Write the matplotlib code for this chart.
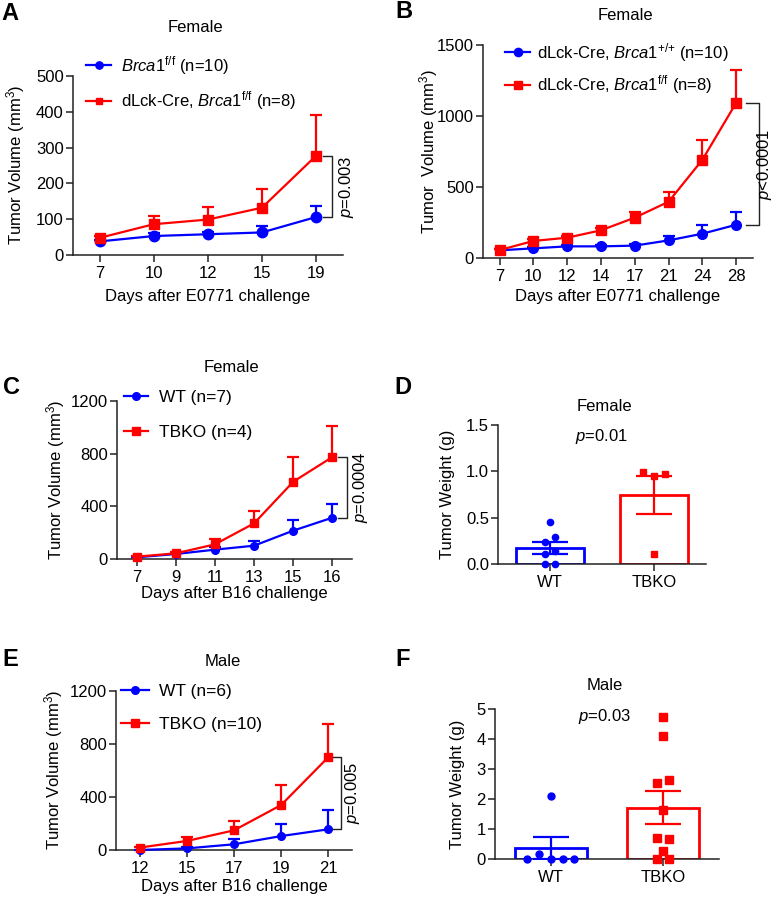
import numpy as np
import matplotlib
matplotlib.use("Agg")
import matplotlib.pyplot as plt

plt.rcParams['font.family'] = ['Liberation Sans', 'DejaVu Sans']
plt.rcParams['mathtext.fontset'] = 'custom'
plt.rcParams['mathtext.rm'] = 'Liberation Sans'
plt.rcParams['mathtext.it'] = 'Liberation Sans:italic'
plt.rcParams['mathtext.bf'] = 'Liberation Sans:bold'
plt.rcParams['font.size'] = 12

W, H = 773, 898
BLUE = '#0000ff'
RED = '#ff0000'
AXC = '#222222'

# -------------------------------
# Data
# -------------------------------
# A: E0771, female
a_days = ['7', '10', '12', '15', '19']
a_ctrl = [38, 53, 58, 63, 106]
a_ctrl_err = [4, 8, 6, 17, 30]
a_ko = [48, 86, 99, 132, 277]
a_ko_err = [4, 22, 34, 51, 113]

# B: E0771, female, longer course
b_days = ['7', '10', '12', '14', '17', '21', '24', '28']
b_ctrl = [54, 68, 82, 82, 87, 124, 171, 234]
b_ctrl_err = [8, 8, 8, 8, 10, 33, 61, 92]
b_ko = [56, 120, 143, 195, 284, 396, 691, 1092]
b_ko_err = [8, 15, 15, 15, 42, 66, 139, 230]

# C: B16, female
c_days = ['7', '9', '11', '13', '15', '16']
c_wt = [15, 40, 73, 103, 217, 315]
c_wt_err = [5, 10, 20, 38, 78, 103]
c_ko = [20, 45, 113, 272, 587, 774]
c_ko_err = [5, 10, 38, 94, 187, 234]

# D: tumor weight, female
d_groups = ['WT', 'TBKO']
d_mean = [0.17, 0.745]
d_sem = [0.065, 0.205]
d_wt_pts = [0.45, 0.29, 0.24, 0.14, 0.11, 0.0, 0.0]
d_ko_pts = [0.99, 0.95, 0.97, 0.11]

# E: B16, male
e_days = ['12', '15', '17', '19', '21']
e_wt = [0, 12, 43, 105, 156]
e_wt_err = [3, 10, 37, 91, 143]
e_ko = [18, 68, 148, 339, 700]
e_ko_err = [5, 32, 73, 151, 251]

# F: tumor weight, male
f_groups = ['WT', 'TBKO']
f_mean = [0.35, 1.70]
f_sem = [0.37, 0.55]
f_wt_pts = [2.09, 0.16, 0.0, 0.0, 0.0, 0.0]
f_ko_pts = [4.71, 4.09, 2.51, 2.62, 1.62, 0.70, 0.67, 0.27, 0.0, 0.0]

# horizontal spread of the dots (layout only)
d_wt_jit = [0.0, 0.05, -0.05, 0.05, -0.05, -0.05, 0.05]
d_ko_jit = [-0.11, 0.0, 0.11, 0.0]
f_wt_jit = [0.0, -0.107, -0.213, 0.0, 0.104, 0.207]
f_ko_jit = [0.0, 0.0, -0.055, 0.055, 0.0, -0.055, 0.055, 0.0, -0.055, 0.055]


def fx(px):
    return px / W


def fy(py):
    return 1 - py / H


def make_ax(fig, x0, y0, x1, y1):
    ax = fig.add_axes([fx(x0), fy(y1), (x1 - x0) / W, (y1 - y0) / H])
    for s in ['top', 'right']:
        ax.spines[s].set_visible(False)
    for s in ['left', 'bottom']:
        ax.spines[s].set_color(AXC)
        ax.spines[s].set_linewidth(1.1)
    ax.tick_params(direction='out', length=5, width=1.1, color=AXC,
                   labelsize=12, pad=2)
    ax.tick_params(axis='y', pad=1.5)
    ax.tick_params(axis='x', pad=3)
    return ax


def growth(ax, days, c_mean, c_err, k_mean, k_err, ms_c, ms_k, ylim, yticks):
    x = np.arange(len(days))
    handles = []
    for m, e, col, mk, ms in [(c_mean, c_err, BLUE, 'o', ms_c),
                              (k_mean, k_err, RED, 's', ms_k)]:
        eb = ax.errorbar(x, m, yerr=[np.zeros(len(m)), e], color=col, lw=1.6,
                         marker=mk, ms=ms, elinewidth=1.6, capsize=4.5,
                         capthick=1.6, clip_on=False, zorder=3)
        eb[1][0].set_visible(False)
        for art in eb[1] + eb[2]:
            art.set_clip_on(False)
        handles.append(eb[0])
    ax.set_xticks(x)
    ax.set_xticklabels(days)
    ax.set_xlim(-0.5, len(days) - 0.5)
    ax.set_ylim(*ylim)
    ax.set_yticks(yticks)
    return handles


def bracket(ax, xv, xt, y_top, y_bot, xtext, label):
    ax.plot([xt, xv, xv, xt], [y_top, y_top, y_bot, y_bot], color=AXC,
            lw=1.0, clip_on=False)
    ax.text(xtext, (y_top + y_bot) / 2, label, rotation=90, ha='center',
            va='center', fontsize=12, clip_on=False)


def weight(ax, groups, mean, sem, wt_pts, ko_pts, wt_jit, ko_jit,
           ms_c, ms_k, ylim, yticks):
    x = np.arange(len(groups))
    ax.bar(x, mean, width=0.65, facecolor='white', edgecolor=[BLUE, RED],
           linewidth=2.0, zorder=2)
    for i, col in enumerate([BLUE, RED]):
        ax.errorbar(x[i], mean[i], yerr=sem[i], color=col, elinewidth=1.6,
                    capsize=13, capthick=1.6, fmt='none', zorder=3)
    ax.plot(x[0] + np.array(wt_jit), wt_pts, 'o', color=BLUE, ms=ms_c,
            clip_on=False, zorder=4)
    ax.plot(x[1] + np.array(ko_jit), ko_pts, 's', color=RED, ms=ms_k,
            clip_on=False, zorder=4)
    ax.set_xticks(x)
    ax.set_xticklabels(groups)
    ax.tick_params(axis='x', length=5)
    ax.set_xlim(-0.5, 1.5)
    ax.set_ylim(*ylim)
    ax.set_yticks(yticks)


def place_labels(ax, fig, xl_cx, xl_top, yl_right, yl_cy):
    if xl_cx is not None:
        ax.xaxis.set_label_coords(fx(xl_cx), fy(xl_top), transform=fig.transFigure)
    ax.yaxis.set_label_coords(fx(yl_right), fy(yl_cy), transform=fig.transFigure)


fig = plt.figure(figsize=(W / 100, H / 100), dpi=100)

ylab = 'Tumor Volume (mm$^{3}$)'
brca_ff = r'$\mathit{Brca1}^{\mathrm{f/f}}$'
brca_pp = r'$\mathit{Brca1}^{{+}/{+}}$'
leg_kw = dict(frameon=False, borderpad=0, borderaxespad=0, fontsize=12,
              handlelength=1.5, handletextpad=0.6, labelspacing=0.75,
              bbox_transform=fig.transFigure, loc='upper left')

# ---- A ----
axA = make_ax(fig, 72.7, 76, 343, 255)
hA = growth(axA, a_days, a_ctrl, a_ctrl_err, a_ko, a_ko_err, 7.5, 7,
            (0, 500), [0, 100, 200, 300, 400, 500])
axA.set_xlabel('Days after E0771 challenge', fontsize=12)
axA.set_ylabel(ylab, fontsize=12)
place_labels(axA, fig, 208, 289, 27, 165)
axA.legend(hA, [brca_ff + ' (n=10)', 'dLck-Cre, ' + brca_ff + ' (n=8)'],
           bbox_to_anchor=(fx(86), fy(54)), markerscale=0.7, **leg_kw)
bracket(axA, 4.3, 4.13, a_ko[-1], a_ctrl[-1], 4.57, r'$\mathit{p}$=0.003')

# ---- B ----
axB = make_ax(fig, 482.7, 45, 753, 258)
hB = growth(axB, b_days, b_ctrl, b_ctrl_err, b_ko, b_ko_err, 7, 7,
            (0, 1500), [0, 500, 1000, 1500])
axB.set_xlabel('Days after E0771 challenge', fontsize=12)
axB.set_ylabel('Tumor  Volume (mm$^{3}$)', fontsize=12)
place_labels(axB, fig, 618, 289, 440, 151)
axB.legend(hB, ['dLck-Cre, ' + brca_pp + ' (n=10)', 'dLck-Cre, ' + brca_ff + ' (n=8)'],
           bbox_to_anchor=(fx(505), fy(41)), markerscale=0.85,
           **dict(leg_kw, handletextpad=0.4, labelspacing=0.55))
bracket(axB, 7.68, 7.3, b_ko[-1], b_ctrl[-1], 7.85, r'$\mathit{p}$<0.0001')

# ---- C ----
axC = make_ax(fig, 117, 400.7, 352, 559.3)
hC = growth(axC, c_days, c_wt, c_wt_err, c_ko, c_ko_err, 5.5, 5.5,
            (0, 1200), [0, 400, 800, 1200])
axC.set_xlabel('Days after B16 challenge', fontsize=12)
axC.set_ylabel(ylab, fontsize=12)
place_labels(axC, fig, 234, 586, 67, 480)
axC.legend(hC, ['WT (n=7)', 'TBKO (n=4)'], bbox_to_anchor=(fx(124), fy(390)),
           **dict(leg_kw, fontsize=12.5, handlelength=1.4, labelspacing=1.15))
bracket(axC, 5.38, 5.15, c_ko[-1], c_wt[-1], 5.71, r'$\mathit{p}$=0.0004')

# ---- D ----
axD = make_ax(fig, 498, 425, 706, 564)
weight(axD, d_groups, d_mean, d_sem, d_wt_pts, d_ko_pts, d_wt_jit, d_ko_jit,
       4.5, 4.5, (0, 1.5), [0.0, 0.5, 1.0, 1.5])
axD.set_yticklabels(['0.0', '0.5', '1.0', '1.5'])
axD.set_ylabel('Tumor Weight (g)', fontsize=12)
place_labels(axD, fig, None, None, 455, 494)

# ---- E ----
axE = make_ax(fig, 116, 690.7, 352, 850)
hE = growth(axE, e_days, e_wt, e_wt_err, e_ko, e_ko_err, 5.5, 5.5,
            (0, 1200), [0, 400, 800, 1200])
axE.set_xlabel('Days after B16 challenge', fontsize=12)
axE.set_ylabel(ylab, fontsize=12)
place_labels(axE, fig, 234, 879, 65, 770)
axE.legend(hE, ['WT (n=6)', 'TBKO (n=10)'], bbox_to_anchor=(fx(121), fy(684)),
           **dict(leg_kw, fontsize=12.5, handlelength=1.6, labelspacing=1.0))
bracket(axE, 4.27, 4.08, e_ko[-1], e_wt[-1], 4.51, r'$\mathit{p}$=0.005')

# ---- F ----
axF = make_ax(fig, 495, 708.7, 719, 858.7)
weight(axF, f_groups, f_mean, f_sem, f_wt_pts, f_ko_pts, f_wt_jit, f_ko_jit,
       5, 5.5, (0, 5), [0, 1, 2, 3, 4, 5])
axF.set_ylabel('Tumor Weight (g)', fontsize=12)
place_labels(axF, fig, None, None, 465, 784)

# ---- titles, p-values, panel letters ----
for x, y, s in [(195, 28, 'Female'), (625, 16, 'Female'), (231, 368, 'Female'),
                (604, 407, 'Female'), (223, 661, 'Male'), (605, 686, 'Male')]:
    fig.text(fx(x), fy(y), s, ha='center', va='center', fontsize=12)
fig.text(fx(601), fy(437), r'$\mathit{p}$=0.01', ha='center', va='center', fontsize=12)
fig.text(fx(605), fy(716), r'$\mathit{p}$=0.03', ha='center', va='center', fontsize=12)

for x, y, s in [(10, 13, 'A'), (404, 12, 'B'), (11, 388, 'C'),
                (403, 388, 'D'), (10, 660, 'E'), (403, 660, 'F')]:
    fig.text(fx(x), fy(y), s, ha='center', va='center', fontsize=17,
             fontweight='bold')

fig.savefig('out.png', dpi=100)
